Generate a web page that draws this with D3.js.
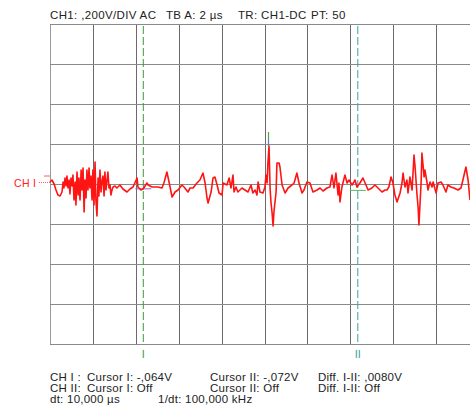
<!DOCTYPE html>
<html>
<head>
<meta charset="utf-8">
<script src="https://cdn.jsdelivr.net/npm/d3@7"></script>
<style>
  html, body { margin: 0; padding: 0; background: #fff; }
  svg { display: block; }
  text { font-family: "Liberation Sans", Arial, sans-serif; fill: #222; }
</style>
</head>
<body>
<svg id="scope" width="470" height="408"></svg>
<script>
// Captured trace, channel 1 (time in µs, level in mV)
const timeUs = [
  0.00, 0.09, 0.19, 0.28, 0.37, 0.47, 0.56, 0.61, 0.65, 0.70, 0.75, 0.79, 0.84, 0.89, 0.93, 0.98,
  1.03, 1.07, 1.12, 1.17, 1.21, 1.26, 1.31, 1.35, 1.40, 1.45, 1.49, 1.54, 1.59, 1.63, 1.68, 1.72,
  1.77, 1.82, 1.86, 1.91, 1.96, 2.00, 2.05, 2.10, 2.14, 2.19, 2.24, 2.28, 2.33, 2.38, 2.42, 2.47,
  2.52, 2.56, 2.61, 2.66, 2.70, 2.75, 2.80, 2.84, 2.89, 2.94, 3.03, 3.12, 3.26, 3.40, 3.59, 3.73,
  3.87, 4.06, 4.10, 4.24, 4.34, 4.52, 4.57, 4.76, 4.90, 5.03, 5.22, 5.31, 5.45, 5.55, 5.69, 5.83,
  5.97, 6.15, 6.25, 6.43, 6.53, 6.67, 6.85, 6.99, 7.13, 7.23, 7.32, 7.37, 7.51, 7.60, 7.69, 7.79,
  7.88, 8.02, 8.07, 8.25, 8.35, 8.44, 8.53, 8.58, 8.67, 8.76, 8.95, 9.09, 9.23, 9.37, 9.46, 9.56,
  9.65, 9.70, 9.79, 9.93, 10.02, 10.07, 10.12, 10.16, 10.21, 10.26, 10.30, 10.35, 10.40, 10.44, 10.54, 10.58,
  10.68, 10.72, 10.82, 10.96, 11.10, 11.28, 11.38, 11.51, 11.61, 11.75, 11.84, 11.98, 12.12, 12.26, 12.45, 12.59,
  12.73, 12.91, 13.05, 13.15, 13.24, 13.33, 13.43, 13.47, 13.52, 13.61, 13.75, 13.85, 13.94, 14.08, 14.17, 14.22,
  14.31, 14.45, 14.59, 14.73, 14.83, 15.01, 15.15, 15.29, 15.48, 15.62, 15.71, 15.80, 15.90, 15.99, 16.08, 16.18,
  16.32, 16.41, 16.46, 16.55, 16.64, 16.69, 16.78, 16.88, 16.97, 17.02, 17.11, 17.16, 17.20, 17.30, 17.34, 17.44,
  17.48, 17.58, 17.62, 17.72, 17.81, 17.86, 18.00, 18.09, 18.23, 18.32, 18.46, 18.55, 18.69, 18.83, 19.02, 19.16,
  19.25, 19.39, 19.49, 19.58
];
const levelMv = [
  -30, -20, -40, -70, -95, -100, -80, -30, -60, -10, -50, 0, -60, -20, -90, -10,
  -50, 5, -120, -30, -145, 20, -95, -10, -120, 30, -70, 40, -180, -20, -110, 30,
  -70, 40, -60, 0, -120, 30, -145, 70, -120, -200, -10, -100, 30, -80, -30, 0,
  -100, 20, -70, -20, 20, -60, -45, -95, -70, -55, -50, -60, -45, -65, -80, -65,
  -55, -10, -55, -70, -65, -35, -45, -55, -55, -55, -60, -35, 20, -30, -105, -80,
  -70, -45, -55, -80, -60, -60, -35, -20, 15, -35, -110, -135, -80, -10, -5, -45,
  -85, -95, -35, -45, -10, -60, 5, -80, -55, -80, -60, -70, -80, -45, -85, -70,
  -95, -30, -80, -85, -55, 5, -35, 65, 150, -60, -130, -180, -250, -180, -80, 65,
  65, 45, -45, -85, -60, -45, -35, 15, -35, -85, -70, -30, -35, -80, -70, -60,
  -75, -60, -55, 5, -60, 15, -95, -35, -130, -55, 5, -35, -20, -45, -30, -20,
  -55, -35, -10, -45, -70, -60, -45, -60, -80, -70, -70, -55, -5, -35, -95, -130,
  -85, -35, 15, -55, -20, -85, -5, -70, 105, 45, -95, -155, -245, -35, 115, -5,
  30, -35, -70, -30, -55, -30, -85, -35, -30, -45, -80, -45, -55, -60, -70, -60,
  -20, 45, -20, -120
];

// Acquisition settings
const voltsPerDiv = 0.2;     // V
const timePerDiv = 2;        // µs
const xDivisions = 10;
const yDivisions = 8;
const centreLevel = -0.04;   // V at the screen centre line
const triggerTime = 10.21;   // µs

// Cursor readouts
const cursorTimes = [4.35, 14.35];      // µs
const cursorLevels = [-0.064, -0.072];  // V
const cursorNames = ["I", "II"];
const cursorColors = ["#3a9a3a", "#3aa0a0"];

// Text lines
const headerParts = ["CH1: ,200V/DIV AC", "TB A: 2 µs", "TR: CH1-DC", "PT: 50"];
const readoutRows = [
  ["CH I :", "Cursor I: -,064V", "Cursor II: -,072V", "Diff. I-II: ,0080V"],
  ["CH II:", "Cursor I: Off", "Cursor II: Off", "Diff. I-II: Off"],
  ["dt: 10,000 µs", "1/dt: 100,000 kHz"]
];

const svg = d3.select("#scope");

const x = d3.scaleLinear()
  .domain([0, timePerDiv * xDivisions])
  .range([50, 479]);
const y = d3.scaleLinear()
  .domain([centreLevel - voltsPerDiv * yDivisions / 2, centreLevel + voltsPerDiv * yDivisions / 2])
  .range([344, 24]);

// Graticule
const grid = svg.append("g").attr("shape-rendering", "crispEdges");
grid.selectAll("line.v")
  .data(d3.range(0, xDivisions + 1).map(i => i * timePerDiv))
  .join("line")
  .attr("x1", d => Math.round(x(d)) + 0.5)
  .attr("x2", d => Math.round(x(d)) + 0.5)
  .attr("y1", y.range()[1])
  .attr("y2", y.range()[0])
  .attr("stroke", (d, i) => i === 0 ? "#9a9a9a" : "#6a6a6a")
  .attr("stroke-width", 1);
grid.selectAll("line.h")
  .data(d3.range(0, yDivisions + 1).map(i => y.domain()[0] + i * voltsPerDiv))
  .join("line")
  .attr("x1", x.range()[0])
  .attr("x2", x.range()[1])
  .attr("y1", d => Math.round(y(d)) + 0.5)
  .attr("y2", d => Math.round(y(d)) + 0.5)
  .attr("stroke", "#8a8a8a")
  .attr("stroke-width", 1);

// Cursor lines
svg.selectAll("line.cursor")
  .data(cursorTimes)
  .join("line")
  .attr("x1", d => x(d))
  .attr("x2", d => x(d))
  .attr("y1", y.range()[1] + 2)
  .attr("y2", y.range()[0])
  .attr("stroke", (d, i) => cursorColors[i])
  .attr("stroke-width", 1)
  .attr("stroke-dasharray", "8,3");

svg.selectAll("text.cursor")
  .data(cursorTimes)
  .join("text")
  .attr("x", d => x(d))
  .attr("y", 358)
  .attr("text-anchor", "middle")
  .style("font-size", "11px")
  .style("fill", (d, i) => cursorColors[i])
  .text((d, i) => cursorNames[i]);

// Cursor level markers
svg.selectAll("line.level")
  .data(cursorLevels)
  .join("line")
  .attr("x1", (d, i) => x(cursorTimes[i]) - 8)
  .attr("x2", (d, i) => x(cursorTimes[i]) + 8)
  .attr("y1", d => y(d))
  .attr("y2", d => y(d))
  .attr("stroke", (d, i) => i === 0 ? "#8a70c8" : "#5fb85f")
  .attr("stroke-width", 1);

// Waveform
const trace = timeUs.map((t, i) => [t, levelMv[i] / 1000]);
const line = d3.line().x(d => x(d[0])).y(d => y(d[1]));
svg.append("path")
  .datum(trace)
  .attr("d", line)
  .attr("fill", "none")
  .attr("stroke", "#ff1414")
  .attr("stroke-width", 1.6)
  .attr("stroke-linejoin", "round");

// Trigger marker above the triggering edge
const trigTop = y.range()[1] + 108;
svg.append("line")
  .attr("x1", x(triggerTime) - 0.5).attr("x2", x(triggerTime) - 0.5)
  .attr("y1", trigTop).attr("y2", trigTop + 7)
  .attr("stroke", "#4aa84a").attr("stroke-width", 1.2);
svg.append("line")
  .attr("x1", x(triggerTime) - 0.5).attr("x2", x(triggerTime) - 0.5)
  .attr("y1", trigTop + 7).attr("y2", y(0.15))
  .attr("stroke", "#5a78d8").attr("stroke-width", 1.2);

// Channel label and ground reference
svg.append("text")
  .attr("x", 14).attr("y", 186.5)
  .style("font-size", "10.5px")
  .style("letter-spacing", "0.3px")
  .style("fill", "#ff2020")
  .text("CH I");
svg.append("line")
  .attr("x1", 39).attr("x2", 50)
  .attr("y1", y(centreLevel) - 1.5).attr("y2", y(centreLevel) - 1.5)
  .attr("stroke", "#ff6060").attr("stroke-width", 1)
  .attr("stroke-dasharray", "1,1");
svg.append("line")
  .attr("x1", 44).attr("x2", 50)
  .attr("y1", y(0)).attr("y2", y(0))
  .attr("stroke", "#ff6060").attr("stroke-width", 1);

// Header
const headerX = [50, 166, 238, 311];
svg.selectAll("text.header")
  .data(headerParts)
  .join("text")
  .attr("x", (d, i) => headerX[i])
  .attr("y", 19)
  .style("font-size", "11.5px")
  .style("letter-spacing", "0.35px")
  .text(d => d);

// Cursor readout
const colX = [50, 87, 210, 318];
const rowY = [381, 392, 403];
readoutRows.forEach((row, r) => {
  const xs = r === 2 ? [50, 158] : colX;
  svg.selectAll(null)
    .data(row)
    .join("text")
    .attr("x", (d, i) => xs[i])
    .attr("y", rowY[r])
    .style("font-size", "11.5px")
    .style("letter-spacing", "0.25px")
    .text(d => d);
});
</script>
</body>
</html>
